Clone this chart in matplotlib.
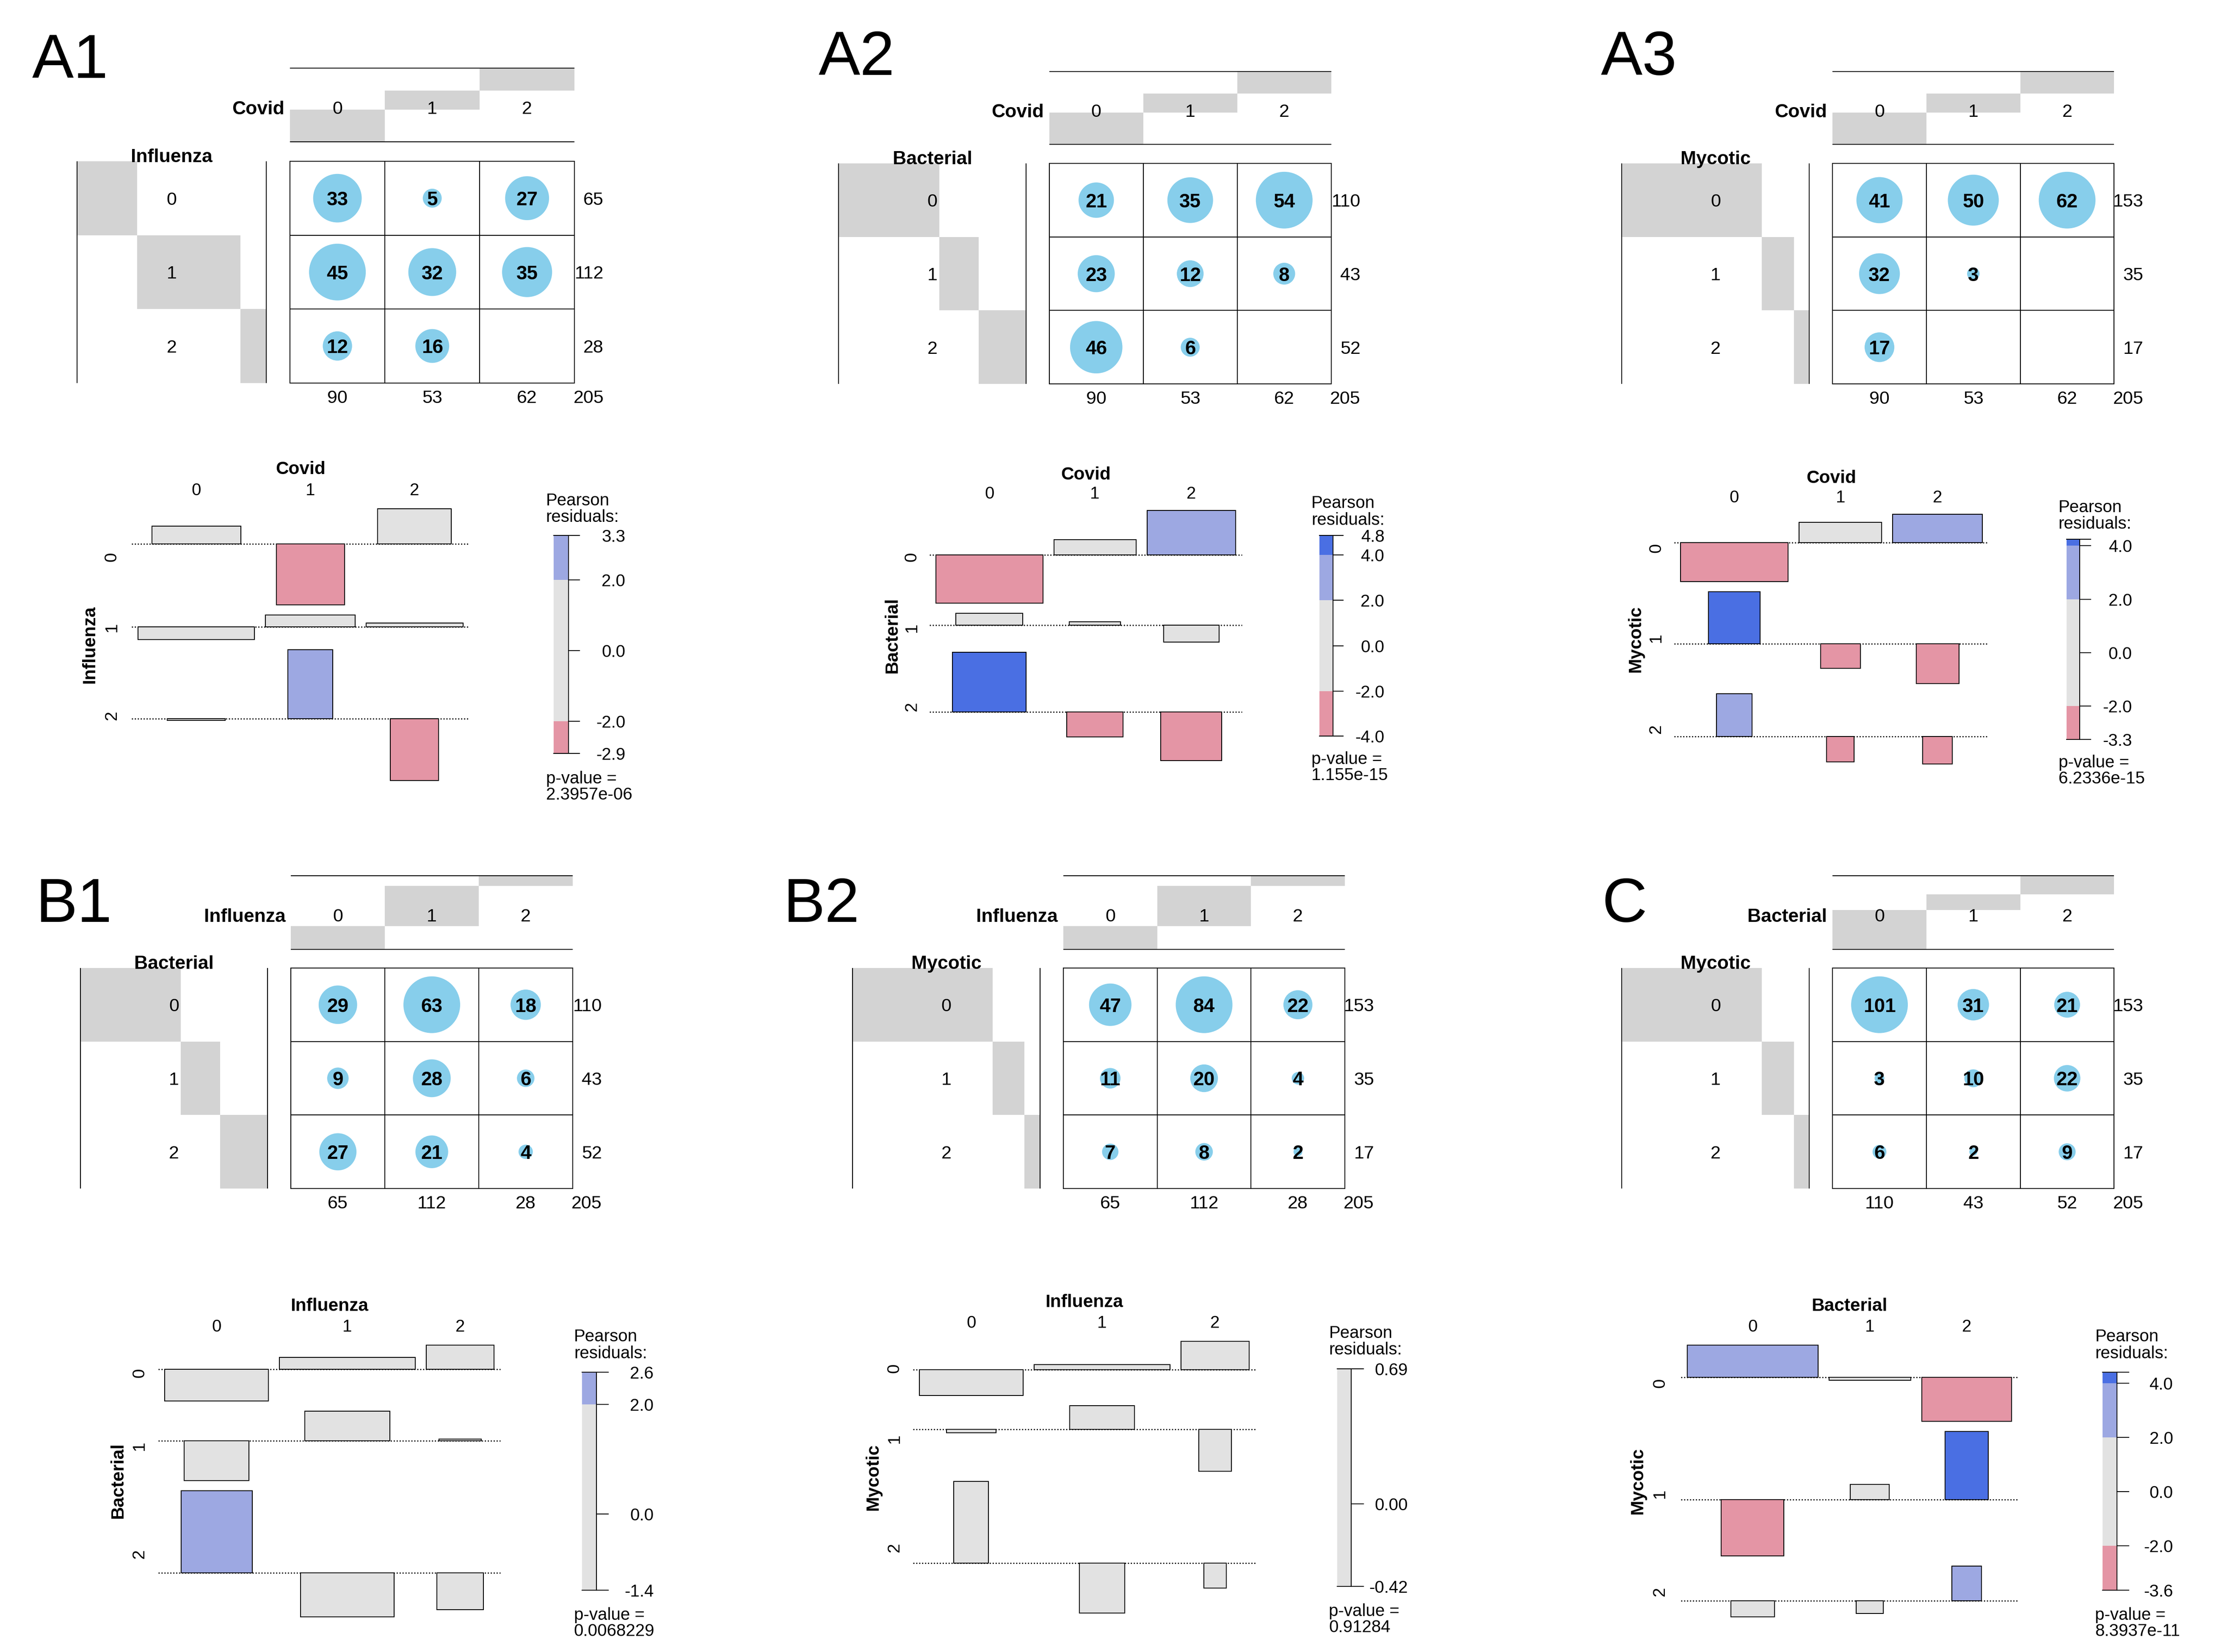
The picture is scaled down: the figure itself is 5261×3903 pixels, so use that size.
import numpy as np
import matplotlib.pyplot as plt
from matplotlib.patches import Rectangle, Ellipse

plt.rcParams['font.family'] = ['Liberation Sans', 'DejaVu Sans']

# ---- values ----
levels = ['0', '1', '2']

a1_rows, a1_cols = 'Influenza', 'Covid'
a1_counts = [[33, 5, 27], [45, 32, 35], [12, 16, 0]]
a1_pvalue = '2.3957e-06'

a2_rows, a2_cols = 'Bacterial', 'Covid'
a2_counts = [[21, 35, 54], [23, 12, 8], [46, 6, 0]]
a2_pvalue = '1.155e-15'

a3_rows, a3_cols = 'Mycotic', 'Covid'
a3_counts = [[41, 50, 62], [32, 3, 0], [17, 0, 0]]
a3_pvalue = '6.2336e-15'

b1_rows, b1_cols = 'Bacterial', 'Influenza'
b1_counts = [[29, 63, 18], [9, 28, 6], [27, 21, 4]]
b1_pvalue = '0.0068229'

b2_rows, b2_cols = 'Mycotic', 'Influenza'
b2_counts = [[47, 84, 22], [11, 20, 4], [7, 8, 2]]
b2_pvalue = '0.91284'

c_rows, c_cols = 'Mycotic', 'Bacterial'
c_counts = [[101, 31, 21], [3, 10, 22], [6, 2, 9]]
c_pvalue = '8.3937e-11'

panels = [
    ('A1', a1_rows, a1_cols, a1_counts, a1_pvalue),
    ('A2', a2_rows, a2_cols, a2_counts, a2_pvalue),
    ('A3', a3_rows, a3_cols, a3_counts, a3_pvalue),
    ('B1', b1_rows, b1_cols, b1_counts, b1_pvalue),
    ('B2', b2_rows, b2_cols, b2_counts, b2_pvalue),
    ('C', c_rows, c_cols, c_counts, c_pvalue),
]

# ---- layout (pixel positions in the 5261x3903 canvas) ----
W, H = 5261, 3903
TOP = {
    'A1': dict(tab=(685.1, 1357.2, 380.9, 904.7), colhdr=(161.4, 335.0), rowhdr=(182.1, 628.7), letter=(75.9, 183.7)),
    'A2': dict(tab=(2478.7, 3144.8, 386.0, 907.2), colhdr=(169.1, 341.3), rowhdr=(1981.1, 2424.2), letter=(1934.2, 177.4)),
    'A3': dict(tab=(4329.2, 4994.2, 386.0, 907.2), colhdr=(169.1, 341.3), rowhdr=(3831.4, 4274.4), letter=(3781.6, 177.4)),
    'B1': dict(tab=(687.3, 1352.8, 2286.9, 2808.1), colhdr=(2069.3, 2242.8), rowhdr=(189.7, 632.0), letter=(84.6, 2177.8)),
    'B2': dict(tab=(2512.0, 3177.0, 2286.9, 2808.1), colhdr=(2069.3, 2242.8), rowhdr=(2014.2, 2456.9), letter=(1851.0, 2177.8)),
    'C': dict(tab=(4329.2, 4994.2, 2286.9, 2808.1), colhdr=(2069.3, 2242.8), rowhdr=(3831.4, 4274.4), letter=(3784.6, 2177.8)),
}
BOT = {
    'A1': dict(box=(325.8, 1093.5, 1202.1, 1843.8), title_y=1104.5, collab_y=1155.0, rowlab_x=263.8, ylab_x=212.0,
               leg=(1308.1, 1343.3, 1265.3, 1780.1), tick_end=1369.2, lab_right=1477.4, txt_left=1289.6,
               pearson_top=1164.8, pval_top=1822.0),
    'A2': dict(box=(2211.0, 2919.2, 1206.1, 1797.3), title_y=1117.2, collab_y=1163.1, rowlab_x=2153.6, ylab_x=2108.6,
               leg=(3117.3, 3148.9, 1265.3, 1738.8), tick_end=3172.8, lab_right=3270.4, txt_left=3098.2,
               pearson_top=1171.7, pval_top=1776.1),
    'A3': dict(box=(3969.8, 4682.6, 1215.3, 1805.4), title_y=1125.8, collab_y=1171.7, rowlab_x=3912.0, ylab_x=3864.3,
               leg=(4881.7, 4912.5, 1273.9, 1747.4), tick_end=4939.4, lab_right=5037.0, txt_left=4862.7,
               pearson_top=1180.9, pval_top=1784.7),
    'B1': dict(box=(389.3, 1167.3, 3177.9, 3819.7), title_y=3081.5, collab_y=3130.9, rowlab_x=329.0, ylab_x=279.2,
               leg=(1375.0, 1409.4, 3242.2, 3756.5), tick_end=1437.2, lab_right=1544.3, txt_left=1355.8,
               pearson_top=3140.6, pval_top=3797.9),
    'B2': dict(box=(2171.8, 2950.8, 3169.3, 3811.1), title_y=3072.9, collab_y=3122.3, rowlab_x=2112.5, ylab_x=2062.7,
               leg=(3158.5, 3192.0, 3233.6, 3747.9), tick_end=3220.7, lab_right=3325.9, txt_left=3139.3,
               pearson_top=3132.0, pval_top=3789.3),
    'C': dict(box=(3985.7, 4752.2, 3177.9, 3819.7), title_y=3081.5, collab_y=3130.9, rowlab_x=3921.0, ylab_x=3869.2,
              leg=(4967.3, 5001.1, 3242.2, 3756.5), tick_end=5029.0, lab_right=5133.5, txt_left=4949.4,
              pearson_top=3140.6, pval_top=3797.9),
}

LW = 1.5
SKY = '#87CEEB'
HDR_GREY = '#D3D3D3'
DARK_BLUE, LIGHT_BLUE, GREY, PINK, DARK_RED = '#4A6FE3', '#9DA8E2', '#E2E2E2', '#E495A5', '#D33F6A'
SHADE_BINS = [(-np.inf, -4, DARK_RED), (-4, -2, PINK), (-2, 2, GREY), (2, 4, LIGHT_BLUE), (4, np.inf, DARK_BLUE)]

TOP_SIZE, TOP_BOLD, NUM_SIZE, LETTER_SIZE = 31, 32, 33, 106
BOT_SIZE, BOT_BOLD = 29, 30.5
CIRCLE_D = 134.0   # diameter (px) of the largest balloon


def label(target, x, y, s, size, ha='center', va='center_baseline', bold=False, rot=0):
    return target.text(x, y, s, fontsize=size, ha=ha, va=va, rotation=rot,
                       fontweight='bold' if bold else 'normal')


def fx(x):
    return x / W


def fy(y):
    return 1 - y / H


def axes_px(x0, x1, y0, y1):
    return fig.add_axes([x0 / W, 1 - y1 / H, (x1 - x0) / W, (y1 - y0) / H])


def shade(r):
    for lo, hi, col in SHADE_BINS:
        if lo <= r < hi:
            return col
    return GREY


def balloon(tag, rname, cname, counts, lay):
    x0, x1, y0, y1 = lay['tab']
    cw, ch = (x1 - x0) / 3, (y1 - y0) / 3
    ax = axes_px(x0, x1, y0, y1)
    ax.set_xlim(0, 3)
    ax.set_ylim(3, 0)
    ax.axis('off')
    t = np.array(counts)
    rtot, ctot, n = t.sum(1), t.sum(0), t.sum()

    def dx(x):
        return (x - x0) / cw

    def dy(y):
        return (y - y0) / ch

    # column header staircase
    ya, yb = dy(lay['colhdr'][0]), dy(lay['colhdr'][1])
    cum = np.cumsum(ctot) / n * (yb - ya)
    for j in range(3):
        ax.add_patch(Rectangle((j, yb - cum[j]), 1, ctot[j] / n * (yb - ya),
                               fc=HDR_GREY, ec='none', clip_on=False))
    ax.hlines([ya, yb], 0, 3, colors='k', lw=LW, clip_on=False)
    ymid = (ya + yb) / 2 + 5.7 / ch
    for j in range(3):
        label(ax, j + 0.5, ymid, levels[j], TOP_SIZE)
    label(ax, dx(x0 - 13), ymid, cname, TOP_BOLD, ha='right', bold=True)

    # row header staircase
    xa, xb = dx(lay['rowhdr'][0]), dx(lay['rowhdr'][1])
    rcum = np.concatenate([[0], np.cumsum(rtot) / n * (xb - xa)])
    for i in range(3):
        ax.add_patch(Rectangle((xa + rcum[i], i), rcum[i + 1] - rcum[i], 1,
                               fc=HDR_GREY, ec='none', clip_on=False))
        label(ax, (xa + xb) / 2, i + 0.5, levels[i], TOP_SIZE)
    ax.vlines([xa, xb], 0, 3, colors='k', lw=LW, clip_on=False)
    label(ax, (xa + xb) / 2, dy(y0 + 2), rname, TOP_BOLD, va='baseline', bold=True)

    # table
    ax.add_patch(Rectangle((0, 0), 3, 3, fill=False, ec='k', lw=LW, clip_on=False))
    ax.vlines([1, 2], 0, 3, colors='k', lw=LW)
    ax.hlines([1, 2], 0, 3, colors='k', lw=LW)
    vmax = t.max()
    for i in range(3):
        for j in range(3):
            v = t[i, j]
            if v == 0:
                continue
            d = CIRCLE_D * np.sqrt(v / vmax)
            ax.add_patch(Ellipse((j + 0.5, i + 0.5), d / cw, d / ch, fc=SKY, ec='none'))
            label(ax, j + 0.5, i + 0.5, str(v), NUM_SIZE, bold=True)

    # margins
    xr = dx(x1 + 69)
    yt = 3 + 31.5 / ch
    for i in range(3):
        label(ax, xr, i + 0.5, str(rtot[i]), TOP_SIZE, ha='right')
    for j in range(3):
        label(ax, j + 0.5, yt, str(ctot[j]), TOP_SIZE)
    label(ax, xr, yt, str(n), TOP_SIZE, ha='right')

    lx, ly = lay['letter']
    label(fig, fx(lx), fy(ly), tag, LETTER_SIZE, ha='left', va='baseline')


def fmt_values(vals):
    dec = 0
    for v in vals:
        s = f'{v:.2g}'
        if 'e' not in s and '.' in s:
            dec = max(dec, len(s.split('.')[1]))
    return [f'{v:.{dec}f}' for v in vals]


def assoc(rname, cname, counts, pval, lay):
    t = np.array(counts, float)
    E = np.outer(t.sum(1), t.sum(0)) / t.sum()
    res = (t - E) / np.sqrt(E)
    wcell = np.sqrt(E)
    wcol = wcell.max(0)
    maxpos = np.clip(res, 0, None).max(1)
    maxneg = np.clip(-res, 0, None).max(1)

    L, R, T, B = lay['box']
    gx, gy = 26.0, 24.0
    sx = (R - L - 2 * gx) / wcol.sum()
    sy = (B - T - 2 * gy) / (maxpos + maxneg).sum()
    gxd, gyd = gx / sx, gy / sy
    left = np.concatenate([[0], np.cumsum(wcol + gxd)[:-1]])
    cx = left + wcol / 2
    xtot = wcol.sum() + 2 * gxd
    bases = []
    top = 0.0
    for i in range(3):
        base = top - maxpos[i]
        bases.append(base)
        top = base - maxneg[i] - gyd
    ybot = bases[-1] - maxneg[-1]

    ax = axes_px(L, R, T, B)
    ax.set_xlim(0, xtot)
    ax.set_ylim(ybot, 0)
    ax.axis('off')

    ax.hlines(bases, -15 / sx, xtot + 15 / sx, colors='k', lw=2.0,
              linestyles=(0, (1, 1.5)), clip_on=False, zorder=1)
    for i in range(3):
        ax.bar(cx, res[i], width=wcell[i], bottom=bases[i], color=[shade(r) for r in res[i]],
               edgecolor='k', linewidth=LW, zorder=3, clip_on=False)

    def xd(x):
        return (x - L) / sx

    def yd(y):
        return -(y - T) / sy

    for j in range(3):
        label(ax, cx[j], yd(lay['collab_y']), levels[j], BOT_SIZE)
    label(ax, xtot / 2, yd(lay['title_y']), cname, BOT_BOLD, bold=True)
    for i in range(3):
        yc = bases[i] + (maxpos[i] - maxneg[i]) / 2
        label(ax, xd(lay['rowlab_x']), yc, levels[i], BOT_SIZE, va='center', rot=90)
    label(ax, xd(lay['ylab_x']), ybot / 2, rname, BOT_BOLD, va='center', bold=True, rot=90)

    # shading legend
    xl, xr, yt, yb = lay['leg']
    rmin, rmax = res.min(), res.max()
    lax = axes_px(xl, xr, yt, yb)
    lax.set_xlim(0, 1)
    lax.set_ylim(rmin, rmax)
    lax.axis('off')
    for lo, hi, col in SHADE_BINS:
        a, b = max(lo, rmin), min(hi, rmax)
        if a < b:
            lax.axhspan(a, b, color=col, lw=0)
    lax.plot([1, 1], [rmin, rmax], color='k', lw=LW, clip_on=False)
    te = (lay['tick_end'] - xl) / (xr - xl)
    inner = [v for v in (4, 2, 0, -2, -4) if rmin < v < rmax]
    vals = [rmax] + inner + [rmin]
    labs = fmt_values(vals)
    ppu = (yb - yt) / (rmax - rmin)
    lr = (lay['lab_right'] - xl) / (xr - xl)
    for k, (v, s) in enumerate(zip(vals, labs)):
        end = k in (0, len(vals) - 1)
        lax.plot([0 if end else 1, te], [v, v], color='k', lw=LW, clip_on=False)
        if end and inner and min(abs(v - u) for u in inner) * ppu < 32:
            continue
        label(lax, lr, v, s, BOT_SIZE, ha='right')

    tl = fx(lay['txt_left'])
    b1 = lay['pearson_top'] + 28.7
    label(fig, tl, fy(b1), 'Pearson', BOT_SIZE, ha='left', va='baseline')
    label(fig, tl, fy(b1 + 39.5), 'residuals:', BOT_SIZE, ha='left', va='baseline')
    b2 = lay['pval_top'] + 28.7
    label(fig, tl, fy(b2), 'p-value =', BOT_SIZE, ha='left', va='baseline')
    label(fig, tl, fy(b2 + 38), pval, BOT_SIZE, ha='left', va='baseline')


fig = plt.figure(figsize=(W / 100, H / 100), dpi=100)
fig.patch.set_facecolor('white')

for tag, rname, cname, counts, pval in panels:
    balloon(tag, rname, cname, counts, TOP[tag])
    assoc(rname, cname, counts, pval, BOT[tag])

fig.savefig('out.png', dpi=100, facecolor='white')
